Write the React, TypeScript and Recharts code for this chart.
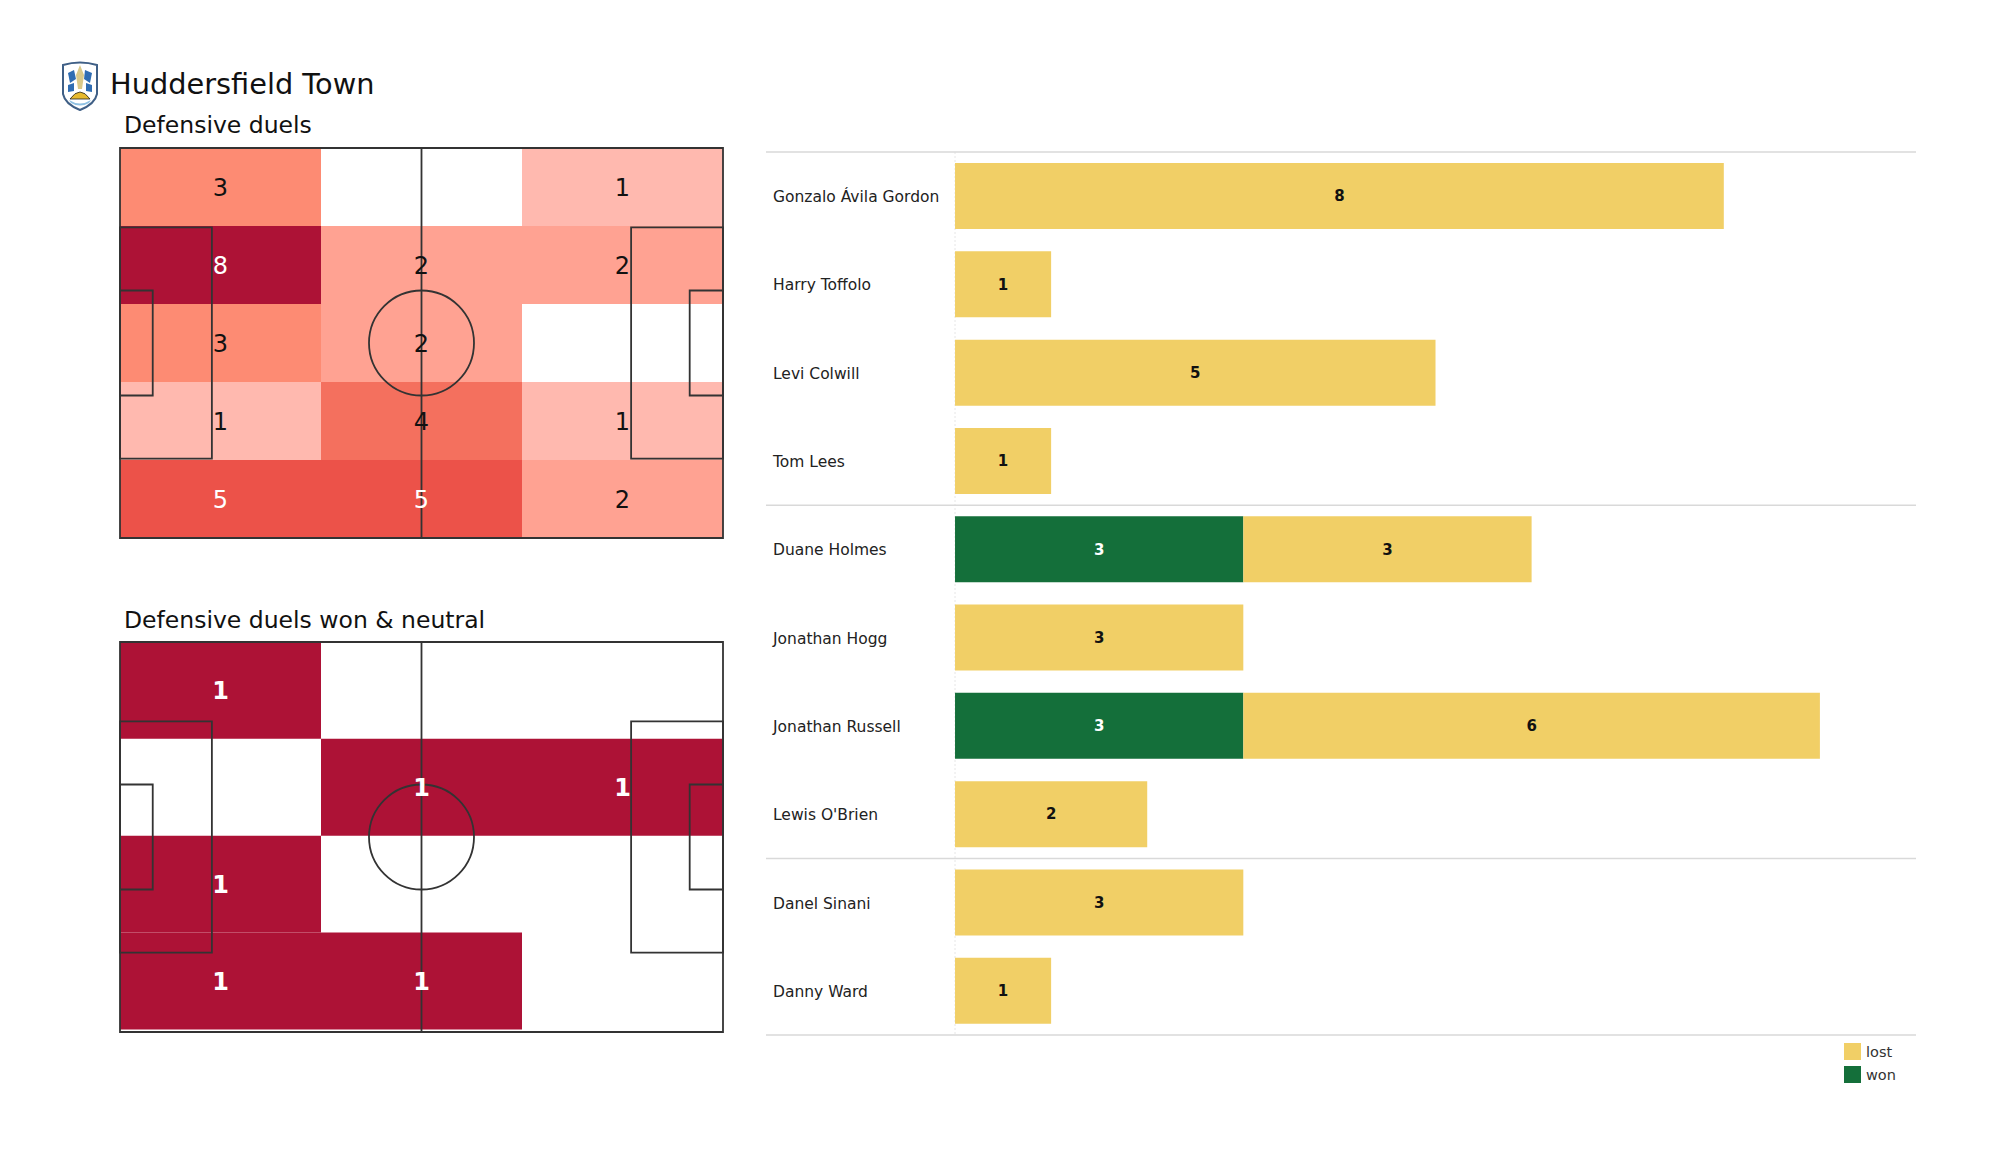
import React from "react";
import {
  BarChart,
  Bar,
  CartesianGrid,
  ComposedChart,
  LabelList,
  Legend,
  ReferenceArea,
  ReferenceDot,
  ReferenceLine,
  Scatter,
  XAxis,
  YAxis,
} from "recharts";

const FONT = "'DejaVu Sans', sans-serif";

// duels per pitch zone, top row first, left to right
const duelRows = [
  [3, 0, 1],
  [8, 2, 2],
  [3, 2, 0],
  [1, 4, 1],
  [5, 5, 2],
];
const wonRows = [
  [1, 0, 0],
  [0, 1, 1],
  [1, 0, 0],
  [1, 1, 0],
];

const players = [
  "Gonzalo Ávila Gordon",
  "Harry Toffolo",
  "Levi Colwill",
  "Tom Lees",
  "Duane Holmes",
  "Jonathan Hogg",
  "Jonathan Russell",
  "Lewis O'Brien",
  "Danel Sinani",
  "Danny Ward",
];
const wonValues = [null, null, null, null, 3, null, 3, null, null, null];
const lostValues = [8, 1, 5, 1, 3, 3, 6, 2, 3, 1];
const barRows = players.map((name, i) => ({
  name,
  won: wonValues[i],
  lost: lostValues[i],
}));

const groupStarts = ["Gonzalo Ávila Gordon", "Duane Holmes", "Danel Sinani"];

const duelColors: Record<number, string> = {
  1: "#ffb9af",
  2: "#ffa292",
  3: "#fd8b73",
  4: "#f4705e",
  5: "#ec5249",
  8: "#ad1236",
};

const PITCH_W = 105;
const PITCH_H = 68;
const LINE = "#333333";

const PitchHeat: React.FC<{
  rows: number[][];
  colorOf: (v: number) => string;
  textOf: (v: number) => string;
  bold?: boolean;
  inset?: number;
  textDy?: number;
  top: number;
}> = ({ rows, colorOf, textOf, bold, inset = 0, textDy = 0, top }) => {
  const cellW = PITCH_W / 3;
  const cellH = (PITCH_H - inset) / rows.length;
  const pitchBox = { fill: "none", stroke: LINE, strokeWidth: 1.8 };
  const cells = rows.flatMap((row, r) =>
    row.map((v, c) => ({
      x: (c + 0.5) * cellW,
      y: PITCH_H - (r + 0.5) * cellH,
      v,
    }))
  );
  const filled = cells.filter((d) => d.v > 0);
  return (
    <div style={{ position: "absolute", left: 118, top: top - 2 }}>
      <ComposedChart
        width={607}
        height={394}
        margin={{ top: 2, right: 2, bottom: 2, left: 2 }}
      >
        <XAxis type="number" dataKey="x" domain={[0, PITCH_W]} hide />
        <YAxis type="number" dataKey="y" domain={[0, PITCH_H]} hide />
        {filled.map((d) => (
          <ReferenceArea
            key={`${d.x}-${d.y}`}
            x1={d.x - cellW / 2}
            x2={d.x + cellW / 2}
            y1={d.y - cellH / 2}
            y2={d.y + cellH / 2}
            fill={colorOf(d.v)}
            fillOpacity={1}
            stroke="none"
          />
        ))}
        <Scatter
          data={filled}
          dataKey="y"
          shape={() => <g />}
          isAnimationActive={false}
        >
          <LabelList
            dataKey="v"
            position="center"
            content={(p: any) => (
              <text
                x={p.x + p.width / 2}
                y={p.y + p.height / 2 + textDy}
                textAnchor="middle"
                dominantBaseline="central"
                fill={textOf(Number(p.value))}
                fontSize={24}
                fontWeight={bold ? 700 : 400}
                fontFamily={FONT}
              >
                {p.value}
              </text>
            )}
          />
        </Scatter>
        <ReferenceArea x1={0} x2={PITCH_W} y1={0} y2={PITCH_H} fillOpacity={0} {...pitchBox} />
        <ReferenceLine x={PITCH_W / 2} stroke={LINE} strokeWidth={1.8} />
        <ReferenceArea x1={0} x2={16} y1={13.85} y2={54.15} fillOpacity={0} {...pitchBox} />
        <ReferenceArea x1={0} x2={5.7} y1={24.85} y2={43.15} fillOpacity={0} {...pitchBox} />
        <ReferenceArea x1={89} x2={PITCH_W} y1={13.85} y2={54.15} fillOpacity={0} {...pitchBox} />
        <ReferenceArea x1={99.2} x2={PITCH_W} y1={24.85} y2={43.15} fillOpacity={0} {...pitchBox} />
        <ReferenceDot
          x={PITCH_W / 2}
          y={PITCH_H / 2}
          r={52.5}
          fill="none"
          stroke={LINE}
          strokeWidth={1.8}
        />
      </ComposedChart>
    </div>
  );
};

const Crest = () => (
  <svg
    width={38}
    height={50}
    viewBox="0 0 38 50"
    style={{ position: "absolute", left: 61, top: 61 }}
  >
    <path
      d="M2 4 Q19 -1 36 4 L36 33 Q34 43 19 49 Q4 43 2 33 Z"
      fill="#ffffff"
      stroke="#3f5f86"
      strokeWidth={2}
    />
    <path d="M7 12 L13 9 L15 18 L9 22 Z" fill="#2f6db3" />
    <path d="M24 9 L31 12 L29 22 L23 18 Z" fill="#2f6db3" />
    <path d="M7 24 L13 22 L13 30 L7 31 Z" fill="#2f6db3" />
    <path d="M25 22 L31 24 L31 31 L25 30 Z" fill="#2f6db3" />
    <path d="M19 4 L23 14 L21 28 L17 28 L15 14 Z" fill="#d9c98a" />
    <path d="M9 38 Q19 24 29 38 Z" fill="#e6b92e" stroke="#222" strokeWidth={0.8} />
    <path d="M8 39 Q19 46 30 39 L28 42 Q19 47 10 42 Z" fill="#8fc1e3" />
  </svg>
);

const textStyle = (left: number, top: number, fontSize: number): React.CSSProperties => ({
  position: "absolute",
  left,
  top,
  fontSize,
  fontFamily: FONT,
  lineHeight: 1,
  color: "#111111",
  whiteSpace: "nowrap",
});

const LegendList = ({ payload }: any) => (
  <div>
    {payload.map((item: any) => (
      <div
        key={item.value}
        style={{ display: "flex", alignItems: "center", height: 23, color: "#333333" }}
      >
        <span
          style={{ width: 17, height: 17, background: item.color, marginRight: 5 }}
        />
        {item.value}
      </div>
    ))}
  </div>
);

const NameTick = ({ x, y, payload }: any) => (
  <text
    x={x}
    y={y}
    dy={1}
    dominantBaseline="central"
    textAnchor="start"
    fill="#222222"
    fontSize={15.5}
    fontFamily={FONT}
  >
    {payload.value}
  </text>
);

export default function App() {
  return (
    <div
      style={{
        position: "absolute",
        left: 0,
        top: 0,
        width: 2000,
        height: 1175,
        background: "#ffffff",
      }}
    >
      <Crest />
      <div style={textStyle(110, 70, 28.8)}>Huddersfield Town</div>
      <div style={textStyle(124, 114, 23.5)}>Defensive duels</div>
      <div style={textStyle(124, 609, 23.5)}>Defensive duels won & neutral</div>

      <PitchHeat
        rows={duelRows}
        colorOf={(v) => duelColors[v]}
        textOf={(v) => (v >= 5 ? "#ffffff" : "#111111")}
        textDy={1}
        top={148}
      />
      <PitchHeat
        rows={wonRows}
        colorOf={() => "#ad1236"}
        textOf={() => "#ffffff"}
        bold
        inset={0.45}
        textDy={1}
        top={642}
      />

      <div style={{ position: "absolute", left: 762, top: 148 }}>
        <BarChart
          width={1158}
          height={960}
          data={barRows}
          layout="vertical"
          barCategoryGap="12.5%"
          margin={{ top: 4, right: 4, bottom: 27, left: 4 }}
        >
          {/* negative side of the axis is the room for the player names */}
          <CartesianGrid
            horizontal={false}
            verticalValues={[0]}
            stroke="#e6e6e6"
            strokeDasharray="2 2"
          />
          <XAxis type="number" domain={[-1.967, 10]} hide />
          <YAxis
            type="category"
            dataKey="name"
            mirror
            width={1}
            axisLine={false}
            tickLine={false}
            tickMargin={1}
            tick={NameTick}
            interval={0}
          />
          {groupStarts.map((name) => (
            <ReferenceLine key={name} y={name} position="start" stroke="#d9d9d9" strokeWidth={1.5} />
          ))}
          <ReferenceLine y="Danny Ward" position="end" stroke="#d9d9d9" strokeWidth={1.5} />
          <Bar dataKey="won" name="won" stackId="a" fill="#146f3a" isAnimationActive={false}>
            <LabelList
              dataKey="won"
              position="center"
              fill="#ffffff"
              fontSize={15}
              fontWeight={700}
              fontFamily={FONT}
            />
          </Bar>
          <Bar dataKey="lost" name="lost" stackId="a" fill="#f1cf66" isAnimationActive={false}>
            <LabelList
              dataKey="lost"
              position="center"
              fill="#111111"
              fontSize={15}
              fontWeight={700}
              fontFamily={FONT}
            />
          </Bar>
          <Legend
            layout="vertical"
            align="center"
            content={LegendList}
            wrapperStyle={{
              position: "absolute",
              left: 1082,
              top: 892,
              width: 80,
              fontSize: 14.5,
              fontFamily: FONT,
            }}
          />
        </BarChart>
      </div>
    </div>
  );
}
